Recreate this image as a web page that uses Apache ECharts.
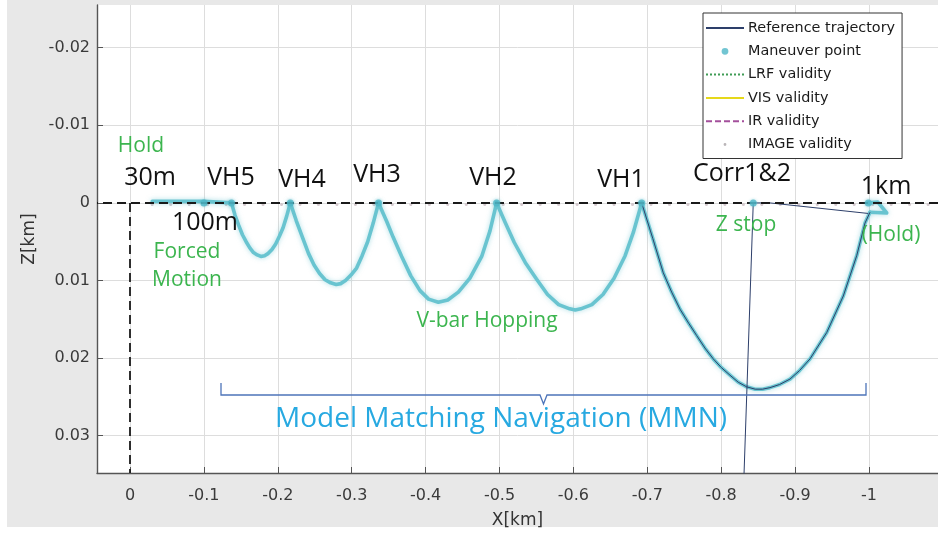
<!DOCTYPE html>
<html>
<head>
<meta charset="utf-8">
<script src="https://cdn.jsdelivr.net/npm/echarts@6/dist/echarts.min.js"></script>
<style>
  html, body { margin: 0; padding: 0; background: #ffffff; }
  #chart { width: 938px; height: 534px; }
</style>
</head>
<body>
<div id="chart"></div>
<script>
// ---- axes -------------------------------------------------------------
const xTicks = [0, -0.1, -0.2, -0.3, -0.4, -0.5, -0.6, -0.7, -0.8, -0.9, -1];
const zTicks = [-0.02, -0.01, 0, 0.01, 0.02, 0.03];
const xRange = [-1.0934, 0.0447];
const zRange = [-0.0255, 0.0348];

// ---- trajectory legs, [X km, Z km], from the 1 km hold towards the target
const hold1km = [
  [-0.9991, 0], [-1.012, -0.0001], [-1.024, 0.0013], [-1.0014, 0.0012]
];
const leg1kmToVH1 = [
  [-1.0014, 0.0012], [-0.9946, 0.0026], [-0.9834, 0.0068], [-0.9652, 0.0120],
  [-0.9428, 0.0167], [-0.9202, 0.0201], [-0.9060, 0.0216], [-0.8931, 0.0227],
  [-0.8790, 0.0234], [-0.8660, 0.0238], [-0.8560, 0.0240], [-0.8460, 0.0240],
  [-0.8345, 0.0237], [-0.8230, 0.0231], [-0.8119, 0.0222], [-0.8000, 0.0212],
  [-0.7893, 0.0201], [-0.7780, 0.0187], [-0.7669, 0.0171], [-0.7560, 0.0155],
  [-0.7443, 0.0137], [-0.7330, 0.0115], [-0.7216, 0.0090], [-0.7075, 0.0046],
  [-0.6924, 0]
];
const legVH1toVH2 = [
  [-0.6924, 0], [-0.6811, 0.0038], [-0.6700, 0.0068], [-0.6550, 0.0097],
  [-0.6400, 0.0118], [-0.6250, 0.0131], [-0.6100, 0.01365], [-0.6025, 0.0138],
  [-0.5950, 0.01365], [-0.5800, 0.0131], [-0.5650, 0.0118], [-0.5500, 0.0098],
  [-0.5350, 0.0077], [-0.5200, 0.0051], [-0.5080, 0.0026], [-0.4961, 0]
];
const legVH2toVH3 = [
  [-0.4961, 0], [-0.4871, 0.0036], [-0.4759, 0.0069], [-0.4600, 0.0097],
  [-0.4443, 0.0115], [-0.4300, 0.0125], [-0.4172, 0.0128], [-0.4040, 0.0124],
  [-0.3924, 0.0113], [-0.3800, 0.0094], [-0.3676, 0.0069], [-0.3560, 0.0044],
  [-0.3474, 0.0024], [-0.3363, 0]
];
const legVH3toVH4 = [
  [-0.3363, 0], [-0.3291, 0.0026], [-0.3216, 0.0050], [-0.3141, 0.0068],
  [-0.3066, 0.0084], [-0.2990, 0.0093], [-0.2916, 0.0100], [-0.2850, 0.0104],
  [-0.2790, 0.0105], [-0.2715, 0.0103], [-0.2640, 0.0099], [-0.2565, 0.0091],
  [-0.2490, 0.0080], [-0.2415, 0.0065], [-0.2340, 0.0046], [-0.2250, 0.0023],
  [-0.2169, 0]
];
const legVH4toVH5 = [
  [-0.2169, 0], [-0.2120, 0.0017], [-0.2071, 0.0032], [-0.2021, 0.0043],
  [-0.1971, 0.0053], [-0.1921, 0.0060], [-0.1871, 0.0065], [-0.1821, 0.0068],
  [-0.1771, 0.0069], [-0.1721, 0.0067], [-0.1671, 0.0064], [-0.1621, 0.0058],
  [-0.1571, 0.0050], [-0.1521, 0.0041], [-0.1471, 0.0029], [-0.1421, 0.0016],
  [-0.1373, 0]
];
const legForcedMotion = [
  [-0.1373, 0], [-0.1000, -0.0002], [-0.0300, -0.0002]
];

// reference trajectory pieces not covered by the legs above
const refHoldLink = [[-0.8434, 0], [-0.8660, 0], [-0.9990, 0.00136]];
const refCorrDrop = [[-0.8434, 0], [-0.8303, 0.0366]];

// maneuver points along the V-bar
const maneuverX = [-0.1, -0.1373, -0.2169, -0.3363, -0.4961, -0.6924, -0.8434, -0.9991];
const maneuverZ = [0, 0, 0, 0, 0, 0, 0, 0];

// IMAGE validity samples along the V-bar
const imageValidX = [
  -0.030, -0.055, -0.080, -0.105, -0.130, -0.155, -0.180, -0.205, -0.230, -0.255,
  -0.280, -0.305, -0.330, -0.355, -0.380, -0.405, -0.430, -0.455, -0.480, -0.505,
  -0.530, -0.555, -0.580, -0.605, -0.630, -0.655, -0.680, -0.705, -0.730, -0.755,
  -0.780, -0.805, -0.830, -0.855, -0.880, -0.905, -0.930, -0.955, -0.980, -1.005,
  -1.030, -1.055, -1.080
];
const imageValidZ = 0.0002;

// ---- styling ------------------------------------------------------------
const CYAN = '#69c4d0';
const REF = '#2d3f6a';
const GREEN = '#3cb54f';
const tickFont = '"DejaVu Sans", "Liberation Sans", sans-serif';
const noteFont = '"Open Sans", "Noto Sans", sans-serif';

const cyanLeg = (data) => ({
  type: 'line', data, smooth: false,
  symbol: 'none', silent: true, z: 3,
  lineStyle: { color: CYAN, width: 3.6, cap: 'round', join: 'round', shadowBlur: 5, shadowColor: 'rgba(103,194,207,0.55)' },
  emphasis: { disabled: true }
});
const refPiece = (data) => ({
  name: 'Reference trajectory', type: 'line', data, smooth: false,
  symbol: 'none', silent: true, z: 4,
  lineStyle: { color: REF, width: 1, join: 'round' },
  emphasis: { disabled: true }
});

const chart = echarts.init(document.getElementById('chart'), null, { renderer: 'canvas' });

const blackLabel = (text, x, y) => ({
  type: 'text', x, y, z: 20, silent: true,
  style: { text, fill: '#111', font: '400 25px ' + noteFont, align: 'center', verticalAlign: 'middle' }
});
const greenLabel = (text, x, y) => ({
  type: 'text', x, y, z: 20, silent: true,
  style: { text, fill: GREEN, font: '400 21px ' + noteFont, align: 'center', verticalAlign: 'middle' }
});
const lineOnly = { itemStyle: { opacity: 0 } };

chart.setOption({
  animation: false,
  backgroundColor: '#ffffff',
  grid: {
    left: 97, right: 0, top: 5, bottom: 60,
    show: true, backgroundColor: '#ffffff', borderWidth: 0
  },
  xAxis: {
    type: 'value', inverse: true, min: xRange[0], max: xRange[1],
    name: 'X[km]', nameLocation: 'middle', nameGap: 39,
    nameTextStyle: { fontFamily: tickFont, fontSize: 17, color: '#333' },
    axisLine: { onZero: false, lineStyle: { color: '#555', width: 1.4 } },
    axisTick: { inside: true, length: 6, customValues: xTicks, lineStyle: { color: '#555' } },
    axisLabel: { customValues: xTicks, margin: 15, fontFamily: tickFont, fontSize: 16, color: '#3a3a3a' },
    splitLine: { show: true, lineStyle: { color: '#dddddd', width: 1 } }
  },
  yAxis: {
    type: 'value', inverse: true, min: zRange[0], max: zRange[1],
    name: 'Z[km]', nameLocation: 'middle', nameGap: 57, nameRotate: 90,
    nameTextStyle: { fontFamily: tickFont, fontSize: 17, color: '#333' },
    axisLine: { show: true, onZero: false, lineStyle: { color: '#555', width: 1.4 } },
    axisTick: { show: true, inside: true, length: 6, customValues: zTicks, lineStyle: { color: '#555' } },
    axisLabel: { customValues: zTicks, margin: 7, fontFamily: tickFont, fontSize: 16, color: '#3a3a3a' },
    splitLine: { show: true, lineStyle: { color: '#dddddd', width: 1 } }
  },
  legend: {
    orient: 'vertical', left: 703, top: 13,
    padding: [8, 7, 7, 2], itemGap: 9.3, itemWidth: 38, itemHeight: 14,
    backgroundColor: '#ffffff', borderColor: '#333', borderWidth: 1, borderRadius: 0,
    selectedMode: false,
    textStyle: { fontFamily: tickFont, fontSize: 14.4, color: '#1a1a1a', padding: [0, 0, 0, -1] },
    data: [
      Object.assign({ name: 'Reference trajectory' }, lineOnly),
      { name: 'Maneuver point', icon: 'path://M0 0M14 14M7 3.6A3.4 3.4 0 1 1 6.99 3.6Z' },
      Object.assign({ name: 'LRF validity' }, lineOnly),
      Object.assign({ name: 'VIS validity' }, lineOnly),
      Object.assign({ name: 'IR validity' }, lineOnly),
      { name: 'IMAGE validity', icon: 'path://M0 0M14 14M7 5.6A1.4 1.4 0 1 1 6.99 5.6Z', itemStyle: { color: '#a9a3a6' } }
    ]
  },
  graphic: [
    // figure background
    { type: 'rect', z: -100, silent: true, shape: { x: 7, y: 0, width: 931, height: 527 }, style: { fill: '#e8e8e8' } },
    // annotations
    greenLabel('Hold', 141, 146),
    blackLabel('30m', 150, 178),
    blackLabel('VH5', 231, 178),
    blackLabel('VH4', 302, 180),
    blackLabel('VH3', 377, 175),
    blackLabel('VH2', 493, 178),
    blackLabel('VH1', 621, 180),
    blackLabel('Corr1&2', 742, 174),
    blackLabel('1km', 886, 187),
    blackLabel('100m', 205, 223),
    greenLabel('Forced', 187, 252),
    greenLabel('Motion', 187, 280),
    greenLabel('V-bar Hopping', 487, 321),
    greenLabel('Z stop', 746, 225),
    greenLabel('(Hold)', 891, 235),
    {
      type: 'polyline', z: 20, silent: true,
      shape: { points: [[221, 383], [221, 395], [540, 395], [543.5, 404], [547, 395], [866, 395], [866, 383]] },
      style: { stroke: '#4d74b9', lineWidth: 1.3, fill: null }
    },
    {
      type: 'text', x: 501, y: 419, z: 20, silent: true,
      style: { text: 'Model Matching Navigation (MMN)', fill: '#27a9e1', font: '400 28px ' + noteFont, align: 'center', verticalAlign: 'middle' }
    }
  ],
  series: [
    // dashed V-bar and target axis
    {
      type: 'line', data: [], silent: true, z: 5,
      markLine: {
        silent: true, symbol: 'none', label: { show: false },
        lineStyle: { color: '#1a1a1a', width: 1.8, type: [9, 5] },
        emphasis: { disabled: true },
        data: [
          { yAxis: 0 },
          [{ coord: [0, 0] }, { coord: [0, zRange[1]] }]
        ]
      }
    },
    cyanLeg(hold1km),
    cyanLeg(leg1kmToVH1),
    cyanLeg(legVH1toVH2),
    cyanLeg(legVH2toVH3),
    cyanLeg(legVH3toVH4),
    cyanLeg(legVH4toVH5),
    cyanLeg(legForcedMotion),
    refPiece(leg1kmToVH1),
    refPiece(refHoldLink),
    refPiece(refCorrDrop),
    {
      name: 'LRF validity', type: 'line', data: [], symbol: 'none',
      itemStyle: { color: '#3f9b55' },
      lineStyle: { color: '#3f9b55', width: 2, type: [2, 2] }
    },
    {
      name: 'VIS validity', type: 'line', data: [], symbol: 'none',
      itemStyle: { color: '#e6d81a' },
      lineStyle: { color: '#e6d81a', width: 3 }
    },
    {
      name: 'IR validity', type: 'line', data: [], symbol: 'none',
      itemStyle: { color: '#a4509c' },
      lineStyle: { color: '#a4509c', width: 3, type: [6, 3] }
    },
    {
      name: 'IMAGE validity', type: 'scatter', silent: true, z: 2,
      data: imageValidX.map(x => [x, imageValidZ]),
      symbol: 'circle', symbolSize: 3,
      itemStyle: { color: '#c9bcc2' }
    },
    {
      name: 'Maneuver point', type: 'scatter', silent: true, z: 8,
      data: maneuverX.map((x, i) => [x, maneuverZ[i]]),
      symbol: 'circle', symbolSize: 7,
      itemStyle: { color: '#4fb7c7', shadowBlur: 3, shadowColor: 'rgba(79,183,199,0.6)' }
    }
  ]
});
</script>
</body>
</html>
